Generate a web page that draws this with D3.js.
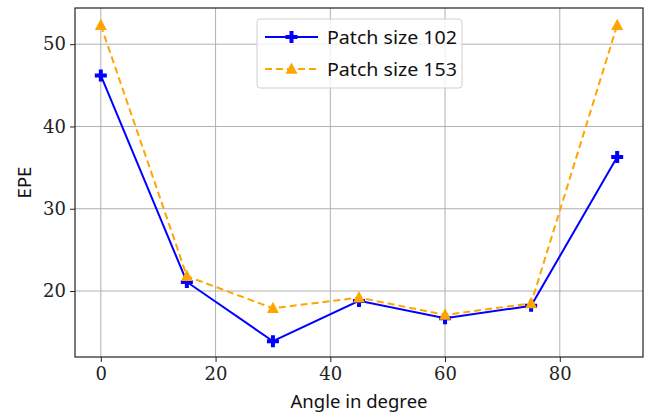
<!DOCTYPE html>
<html>
<head>
<meta charset="utf-8">
<script src="https://cdn.jsdelivr.net/npm/d3@7"></script>
<style>
  body { margin: 0; background: #fff; }
</style>
</head>
<body>
<script>
// data
const angles = [0, 15, 30, 45, 60, 75, 90];
const epe102 = [46.2, 21.1, 13.9, 18.8, 16.7, 18.2, 36.3];
const epe153 = [52.3, 21.8, 17.9, 19.2, 17.1, 18.5, 52.3];
const xTicks = [0, 20, 40, 60, 80];
const yTicks = [20, 30, 40, 50];

const series = [
  {name: "Patch size 102", values: epe102, color: "#0000ff", dash: null, marker: "plus"},
  {name: "Patch size 153", values: epe153, color: "#ffa500", dash: "7,4", marker: "tri"}
];

const W = 650, H = 413;
const margin = {top: 8, right: 7, bottom: 56, left: 75};
const iw = W - margin.left - margin.right;
const ih = H - margin.top - margin.bottom;
const serif = "DejaVu Serif";
const sans = "Noto Sans";

const svg = d3.select("body").append("svg")
  .attr("width", W).attr("height", H);

const x = d3.scaleLinear().domain([-4.5, 94.5]).range([0, iw]);
const y = d3.scaleLinear().domain([11.98, 54.4]).range([ih, 0]);

const g = svg.append("g").attr("transform", `translate(${margin.left},${margin.top})`);

// grid
g.append("g").selectAll("line").data(xTicks).enter().append("line")
  .attr("x1", d => x(d)).attr("x2", d => x(d)).attr("y1", 0).attr("y2", ih)
  .attr("stroke", "#b0b0b0").attr("stroke-width", 1);
g.append("g").selectAll("line").data(yTicks).enter().append("line")
  .attr("y1", d => y(d)).attr("y2", d => y(d)).attr("x1", 0).attr("x2", iw)
  .attr("stroke", "#b0b0b0").attr("stroke-width", 1);

// axes
const xAxis = g.append("g").attr("transform", `translate(0,${ih})`)
  .call(d3.axisBottom(x).tickValues(xTicks).tickSize(5).tickPadding(5));
const yAxis = g.append("g")
  .call(d3.axisLeft(y).tickValues(yTicks).tickSize(5).tickPadding(4));
[xAxis, yAxis].forEach(a => {
  a.attr("font-family", serif).attr("font-size", 18);
  a.select(".domain").remove();
  a.selectAll(".tick line").attr("stroke", "#222");
  a.selectAll(".tick text").attr("fill", "#222");
});

g.append("rect").attr("width", iw).attr("height", ih)
  .attr("fill", "none").attr("stroke", "#222").attr("stroke-width", 1.2);

// markers
const plusPath = s => {
  const a = s / 2, b = s / 6;
  return `M${-b},${-a}H${b}V${-b}H${a}V${b}H${b}V${a}H${-b}V${b}H${-a}V${-b}H${-b}Z`;
};
const triPath = s => {
  const a = s / 2;
  return `M0,${-a * 1.1}L${a},${a * 0.8}L${-a},${a * 0.8}Z`;
};
function drawMarker(sel, m, color, s) {
  sel.append("path").attr("d", m === "plus" ? plusPath(s) : triPath(s))
    .attr("fill", color);
}

const line = d3.line().x((d, i) => x(angles[i])).y(d => y(d));

series.forEach(s => {
  g.append("path").datum(s.values)
    .attr("d", line).attr("fill", "none")
    .attr("stroke", s.color).attr("stroke-width", 2)
    .attr("stroke-dasharray", s.dash);
  g.append("g").selectAll("g").data(s.values).enter().append("g")
    .attr("transform", (d, i) => `translate(${x(angles[i])},${y(d)})`)
    .each(function() { drawMarker(d3.select(this), s.marker, s.color, 12); });
});

// legend
const lg = svg.append("g").attr("transform", "translate(257,19)");
lg.append("rect").attr("width", 205).attr("height", 69).attr("rx", 3)
  .attr("fill", "#fff").attr("fill-opacity", 0.8)
  .attr("stroke", "#d0d0d0").attr("stroke-width", 1);
series.forEach((s, i) => {
  const row = lg.append("g").attr("transform", `translate(0,${18 + i * 32})`);
  row.append("line").attr("x1", 8).attr("x2", 61)
    .attr("stroke", s.color).attr("stroke-width", 2)
    .attr("stroke-dasharray", s.dash);
  const mk = row.append("g").attr("transform", "translate(34.5,0)");
  drawMarker(mk, s.marker, s.color, 12);
  row.append("text").attr("x", 70).attr("y", 7)
    .attr("font-family", sans).attr("font-size", 18.5).attr("fill", "#111")
    .attr("textLength", 130).attr("lengthAdjust", "spacingAndGlyphs")
    .text(s.name);
});

// axis labels
svg.append("text")
  .attr("x", margin.left + iw / 2).attr("y", 408)
  .attr("font-family", sans).attr("font-size", 18.5).attr("fill", "#111")
  .attr("text-anchor", "middle").text("Angle in degree");
svg.append("text")
  .attr("transform", `translate(31,${margin.top + ih / 2}) rotate(-90)`)
  .attr("font-family", sans).attr("font-size", 18.5).attr("fill", "#111")
  .attr("text-anchor", "middle").text("EPE");
</script>
</body>
</html>
